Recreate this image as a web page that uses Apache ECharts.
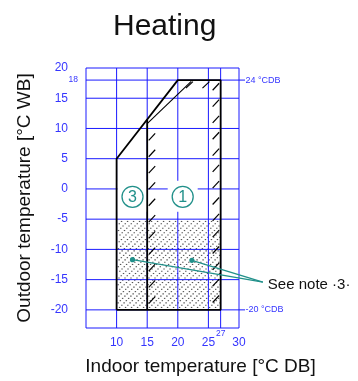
<!DOCTYPE html>
<html><head><meta charset="utf-8">
<script src="https://cdn.jsdelivr.net/npm/echarts@6/dist/echarts.min.js"></script>
<style>html,body{margin:0;padding:0;background:#fff}#c{width:358px;height:381px}</style>
</head><body><div id="c"></div>
<script>
// ---- data ----
const xTicks = [10, 15, 20, 25, 30];
const xTickSmall = [27];
const yTicks = [-20, -15, -10, -5, 0, 5, 10, 15, 20];
const yTickSmall = [18];
const xGridLines = [10, 15, 20, 25, 27];
const yGridLines = [-20, -15, -10, -5, 0, 5, 10, 15, 18];
const envelope = [[10, -20], [10, 5], [20, 18], [27, 18], [27, -20], [10, -20]];
const divider = [[15, -20], [15, 11.5]];
const innerDiag = [[15, 10.8], [22.2, 17.8]];
const dottedArea = [10, -5, 27, -20];
const zoneLabels = [{ name: '3', x: 12.6, y: -1.3 }, { name: '1', x: 20.8, y: -1.3 }];
const notePoints = [[12.6, -11.7], [22.3, -11.8]];
const noteAnchor = [33.9, -15.4];
const noteText = 'See note ·3·';
const cdbLabels = [{ y: 18, text: '24 °CDB' }, { y: -20, text: '-20 °CDB' }];
const hatchLeftY = [8.6, 5.9, 3.2, 0.5, -2.2, -4.9, -7.6, -10.3, -13.0, -15.7, -18.4];
const hatchRightY = [16.9, 14.2, 11.5, 8.8, 6.1, 3.4, 0.7, -2.0, -4.7, -7.4, -10.1, -12.8, -15.5, -18.2];
const hatchTopX = [21.9, 24.6];

const BLUE = '#1a1aff';
const LBLUE = '#3535ff';
const TEAL = '#21908a';
const NARROW = '"Liberation Sans Narrow", "Liberation Sans", sans-serif';
const SANS = '"Liberation Sans", Arial, sans-serif';

const chart = echarts.init(document.getElementById('c'), null, { renderer: 'canvas' });

function lineShape(a, b) { return { x1: a[0], y1: a[1], x2: b[0], y2: b[1] }; }

const option = {
  animation: false,
  title: {
    text: 'Heating', left: 108, top: 7,
    textStyle: { fontFamily: SANS, fontSize: 30, fontWeight: 'normal', color: '#111' }
  },
  grid: { left: 86, top: 68, width: 153, height: 264, show: true, borderColor: BLUE, borderWidth: 1, backgroundColor: 'transparent' },
  xAxis: [{
    type: 'value', min: 5, max: 30,
    axisLine: { show: false }, axisTick: { show: false }, splitLine: { show: false },
    axisLabel: { customValues: xTicks, margin: 9, color: LBLUE, fontFamily: NARROW, fontSize: 12 },
    name: 'Indoor temperature [°C DB]', nameLocation: 'middle', nameGap: 29,
    nameTextStyle: { fontFamily: SANS, fontSize: 19, color: '#111', padding: [0, 0, 0, 76] }
  }, {
    type: 'value', min: 5, max: 30, position: 'bottom', offset: 0,
    axisLine: { show: false }, axisTick: { show: false }, splitLine: { show: false },
    axisLabel: { customValues: xTickSmall, margin: 1, color: LBLUE, fontFamily: NARROW, fontSize: 8.5 }
  }],
  yAxis: [{
    type: 'value', min: -23, max: 20,
    axisLine: { show: false }, axisTick: { show: false }, splitLine: { show: false },
    axisLabel: { customValues: yTicks, margin: 18, color: LBLUE, fontFamily: NARROW, fontSize: 12 },
    name: 'Outdoor temperature [°C WB]', nameLocation: 'middle', nameGap: 52, nameRotate: 90,
    nameTextStyle: { fontFamily: SANS, fontSize: 19, color: '#111' }
  }, {
    type: 'value', min: -23, max: 20, position: 'left', offset: 0,
    axisLine: { show: false }, axisTick: { show: false }, splitLine: { show: false },
    axisLabel: { customValues: yTickSmall, margin: 8, color: LBLUE, fontFamily: NARROW, fontSize: 8.5 }
  }],
  series: [
    { // dotted area
      type: 'custom', z: 1, silent: true, data: [[0]],
      renderItem: function (params, api) {
        const p1 = api.coord([dottedArea[0], dottedArea[1]]);
        const p2 = api.coord([dottedArea[2], dottedArea[3]]);
        const x0 = p1[0], y0 = p1[1], x1 = p2[0], y1 = p2[1];
        const W = x1 - x0, H = y1 - y0;
        const children = [];
        for (let k = -H; k < W; k += 6) {
          for (let t = 1; t < H + W; t += 3.2) {
            const px = x0 + k + t * 0.7071;
            const py = y1 - t * 0.7071;
            if (px > x0 + 0.5 && px < x1 - 1 && py > y0 + 0.5 && py < y1 - 1) {
              children.push({ type: 'rect', shape: { x: px, y: py, width: 1.4, height: 1.1 }, style: { fill: '#555' } });
            }
          }
        }
        return { type: 'group', children: children };
      }
    },
    { // gridlines + CDB marks
      type: 'custom', z: 2, silent: true, data: [[0]],
      renderItem: function (params, api) {
        const children = [];
        xGridLines.forEach(function (v) {
          children.push({ type: 'line', shape: lineShape(api.coord([v, -23]), api.coord([v, 20])), style: { stroke: BLUE, lineWidth: 1 } });
        });
        yGridLines.forEach(function (v) {
          children.push({ type: 'line', shape: lineShape(api.coord([5, v]), api.coord([30, v])), style: { stroke: BLUE, lineWidth: 1 } });
        });
        cdbLabels.forEach(function (c) {
          const p = api.coord([30, c.y]);
          children.push({ type: 'line', shape: { x1: p[0], y1: p[1], x2: p[0] + 6, y2: p[1] }, style: { stroke: BLUE, lineWidth: 1 } });
          children.push({ type: 'text', x: p[0] + 6.5, y: p[1], style: { text: c.text, fill: LBLUE, font: '9px ' + NARROW, textAlign: 'left', textVerticalAlign: 'middle' } });
        });
        return { type: 'group', children: children };
      }
    },
    { // white boxes behind zone labels
      type: 'custom', z: 3, silent: true, data: [[0]],
      renderItem: function (params, api) {
        return {
          type: 'group', children: zoneLabels.map(function (z) {
            const p = api.coord([z.x, z.y]);
            return { type: 'rect', shape: { x: p[0] - 15, y: p[1] - 16, width: 30, height: 31 }, style: { fill: '#fff' } };
          })
        };
      }
    },
    { type: 'line', z: 4, data: envelope, symbol: 'none', lineStyle: { color: '#000', width: 1.8 }, silent: true },
    { type: 'line', z: 4, data: divider, symbol: 'none', lineStyle: { color: '#000', width: 1.8 }, silent: true },
    { type: 'line', z: 4, data: innerDiag, symbol: 'none', lineStyle: { color: '#000', width: 1.1 }, silent: true },
    { // hatch strokes
      type: 'custom', z: 5, silent: true, data: [[0]],
      renderItem: function (params, api) {
        const children = [];
        const st = { stroke: '#000', lineWidth: 1.2 };
        hatchLeftY.forEach(function (v) {
          const p = api.coord([15, v]);
          children.push({ type: 'line', shape: { x1: p[0] + 1.5, y1: p[1] + 3.5, x2: p[0] + 8, y2: p[1] - 3.5 }, style: st });
        });
        hatchRightY.forEach(function (v) {
          const p = api.coord([27, v]);
          children.push({ type: 'line', shape: { x1: p[0] - 8, y1: p[1] + 3.5, x2: p[0] - 1.5, y2: p[1] - 3.5 }, style: st });
        });
        hatchTopX.forEach(function (v) {
          const p = api.coord([v, 18]);
          children.push({ type: 'line', shape: { x1: p[0] - 3.5, y1: p[1] + 8, x2: p[0] + 3.5, y2: p[1] + 1.5 }, style: st });
        });
        return { type: 'group', children: children };
      }
    },
    { // zone circles
      type: 'custom', z: 6, silent: true, data: [[0]],
      renderItem: function (params, api) {
        const children = [];
        zoneLabels.forEach(function (z) {
          const p = api.coord([z.x, z.y]);
          children.push({ type: 'circle', shape: { cx: p[0], cy: p[1], r: 10.5 }, style: { fill: '#fff', stroke: TEAL, lineWidth: 1.3 } });
          children.push({ type: 'text', x: p[0], y: p[1] + 0.5, style: { text: z.name, fill: TEAL, font: '16px ' + SANS, textAlign: 'center', textVerticalAlign: 'middle' } });
        });
        return { type: 'group', children: children };
      }
    },
    { // note annotation
      type: 'custom', z: 7, silent: true, data: [[0]], clip: false,
      renderItem: function (params, api) {
        const a = api.coord(noteAnchor);
        const children = [];
        notePoints.forEach(function (pt) {
          const p = api.coord(pt);
          children.push({ type: 'line', shape: { x1: p[0], y1: p[1], x2: a[0], y2: a[1] }, style: { stroke: TEAL, lineWidth: 1.3 } });
          children.push({ type: 'circle', shape: { cx: p[0], cy: p[1], r: 2.6 }, style: { fill: TEAL } });
        });
        children.push({ type: 'text', x: a[0] + 5, y: a[1] + 3, style: { text: noteText, fill: '#111', font: '15px ' + SANS, textAlign: 'left', textVerticalAlign: 'middle' } });
        return { type: 'group', children: children };
      }
    }
  ]
};
chart.setOption(option);
</script>
</body></html>
